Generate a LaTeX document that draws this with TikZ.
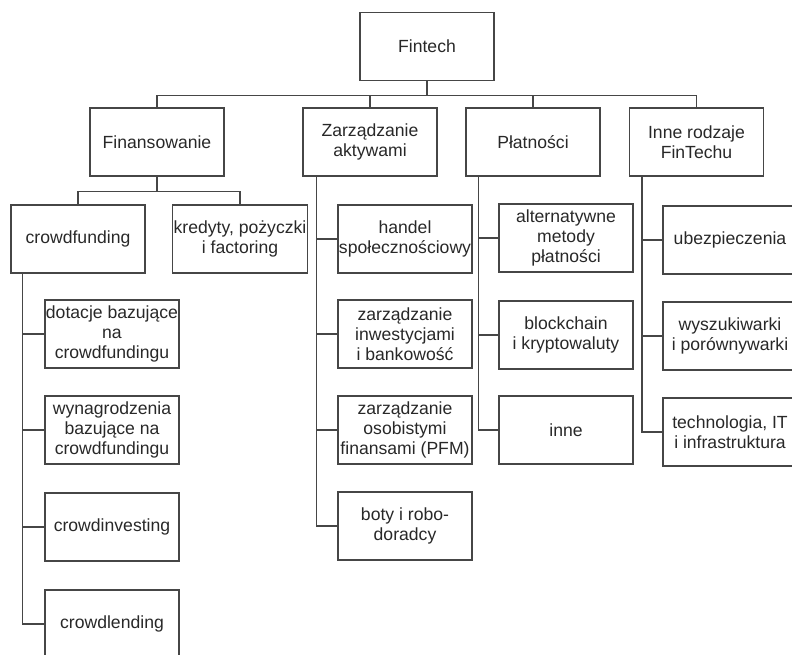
\documentclass[tikz,border=0pt]{standalone}
\usepackage{fontspec}
\setmainfont{Liberation Sans}
\usepackage{tikz}
\definecolor{linegray}{RGB}{70,70,70}
\definecolor{textgray}{RGB}{40,40,40}
\tikzstyle{box}=[draw=linegray,line width=1.25pt,minimum width=134pt,minimum height=68pt,inner sep=1pt,align=center,text=textgray,font=\fontsize{17.6}{20}\selectfont]
\tikzstyle{link}=[draw=linegray,line width=1.25pt]

\begin{document}
\begin{tikzpicture}[x=1pt,y=-1pt]
        \useasboundingbox (0,0) rectangle (792,654);
        \node[box] (fintech) at (427,46.5) {Fintech};
        \node[box] (finans) at (157,142) {Finansowanie};
        \node[box] (zarz) at (370,142) {Zarządzanie\\aktywami};
        \node[box] (plat) at (533,142) {Płatności};
        \node[box] (inne) at (696.5,142) {Inne rodzaje\\FinTechu};
        \node[box] (crowd) at (78,239) {crowdfunding};
        \node[box] (kredyty) at (240,239) {kredyty, pożyczki\\i factoring};
        \node[box] (dotacje) at (112,334) {dotacje bazujące\\na\\crowdfundingu};
        \node[box] (wynagr) at (112,430) {wynagrodzenia\\bazujące na\\crowdfundingu};
        \node[box] (cinvest) at (112,527) {crowdinvesting};
        \node[box] (clend) at (112,624) {crowdlending};
        \node[box] (handel) at (405,239) {handel\\społecznościowy};
        \node[box] (inwest) at (405,334) {zarządzanie\\inwestycjami\\i bankowość};
        \node[box] (pfm) at (405,430) {zarządzanie\\osobistymi\\finansami (PFM)};
        \node[box] (boty) at (405,526) {boty i robo-\\doradcy};
        \node[box] (altmet) at (566,238) {alternatywne\\metody\\płatności};
        \node[box] (block) at (566,335) {blockchain\\i kryptowaluty};
        \node[box] (inneplat) at (566,430) {inne};
        \node[box] (ubezp) at (730,240) {ubezpieczenia};
        \node[box] (wyszuk) at (730,336) {wyszukiwarki\\i porównywarki};
        \node[box] (techit) at (730,432) {technologia, IT\\i infrastruktura};
        \draw[link] (fintech.south) -- ++(0,14) -| (finans.north);
        \draw[link] (fintech.south) -- ++(0,14) -| (zarz.north);
        \draw[link] (fintech.south) -- ++(0,14) -| (plat.north);
        \draw[link] (fintech.south) -- ++(0,14) -| (inne.north);
        \draw[link] (finans.south) -- ++(0,15) -| (crowd.north);
        \draw[link] (finans.south) -- ++(0,15) -| (kredyty.north);
        \draw[link] ([xshift=12pt]crowd.south west) |- (dotacje.west);
        \draw[link] ([xshift=12pt]crowd.south west) |- (wynagr.west);
        \draw[link] ([xshift=12pt]crowd.south west) |- (cinvest.west);
        \draw[link] ([xshift=12pt]crowd.south west) |- (clend.west);
        \draw[link] ([xshift=14pt]zarz.south west) |- (handel.west);
        \draw[link] ([xshift=14pt]zarz.south west) |- (inwest.west);
        \draw[link] ([xshift=14pt]zarz.south west) |- (pfm.west);
        \draw[link] ([xshift=14pt]zarz.south west) |- (boty.west);
        \draw[link] ([xshift=13pt]plat.south west) |- (altmet.west);
        \draw[link] ([xshift=13pt]plat.south west) |- (block.west);
        \draw[link] ([xshift=13pt]plat.south west) |- (inneplat.west);
        \draw[link] ([xshift=13pt]inne.south west) |- (ubezp.west);
        \draw[link] ([xshift=13pt]inne.south west) |- (wyszuk.west);
        \draw[link] ([xshift=13pt]inne.south west) |- (techit.west);
\end{tikzpicture}
\end{document}
